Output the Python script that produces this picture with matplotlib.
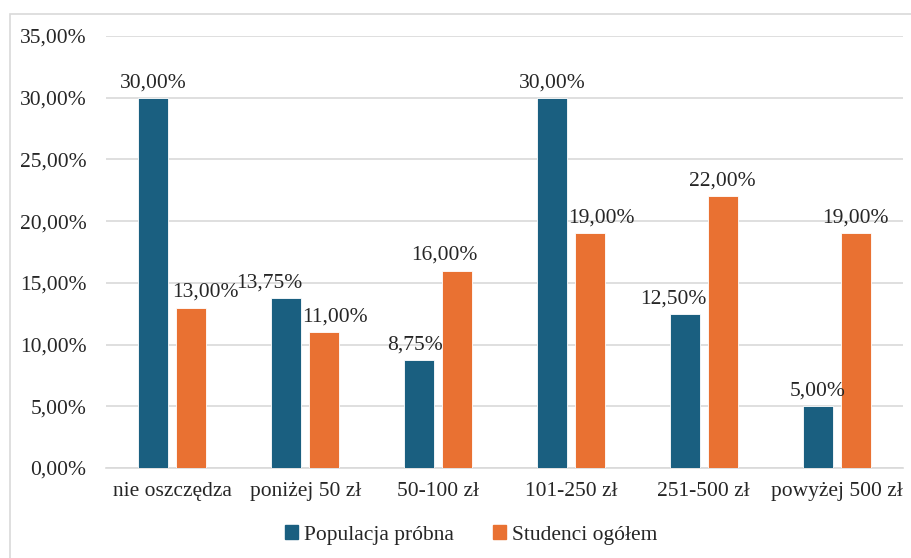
import matplotlib
matplotlib.use('Agg')
import matplotlib.pyplot as plt
import matplotlib.patches as mpatches
import numpy as np

plt.rcParams['font.family'] = ['Liberation Serif', 'DejaVu Serif']

BLUE = '#1a5f80'
ORANGE = '#e97132'
GRID = '#d9d9d9'
TXT = '#262626'
FS = 15.5

categories = ['nie oszczędza', 'poniżej 50 zł', '50-100 zł', '101-250 zł', '251-500 zł', 'powyżej 500 zł']
populacja = [30.00, 13.75, 8.75, 30.00, 12.50, 5.00]
studenci = [13.00, 11.00, 16.00, 19.00, 22.00, 19.00]
series_names = ['Populacja próbna', 'Studenci ogółem']

# small horizontal nudges of the value labels (points), as placed in the original
nudge_pop = [0, -12, -3, 0, -8, 0]
nudge_stu = [10, 8, -9, 8, 0, 0]

fig = plt.figure(figsize=(9.12, 5.58), dpi=100)
ax = fig.add_axes([106/912, 90/558, 797/912, 432/558])

x = np.arange(len(categories))
w = 0.225
off = 0.143
b1 = ax.bar(x - off, populacja, w, color=BLUE, edgecolor='white', linewidth=0.6, zorder=3)
b2 = ax.bar(x + off, studenci, w, color=ORANGE, edgecolor='white', linewidth=0.6, zorder=3)

def fmt(v):
    return f'{v:.2f}%'.replace('.', ',')

for bars, vals, nud in [(b1, populacja, nudge_pop), (b2, studenci, nudge_stu)]:
    for r, v, n in zip(bars, vals, nud):
        ax.annotate(fmt(v), (r.get_x() + r.get_width()/2, v), xytext=(n, 4),
                    textcoords='offset points', ha='center', va='bottom',
                    fontsize=FS, color=TXT, zorder=4)

ax.set_xlim(-0.5, len(categories) - 0.5)
ax.set_ylim(0, 35)
ax.set_yticks(np.arange(0, 36, 5))
ax.set_yticklabels([fmt(t) for t in np.arange(0, 36, 5)])
ax.set_xticks(x)
ax.set_xticklabels(categories)
ax.tick_params(axis='both', length=0, labelsize=FS, colors=TXT)
ax.tick_params(axis='x', pad=10)
ax.tick_params(axis='y', pad=14)
ax.grid(axis='y', color=GRID, linewidth=1.2, zorder=0)
for s in ['left', 'right', 'top']:
    ax.spines[s].set_visible(False)
ax.spines['bottom'].set_color(GRID)
ax.spines['bottom'].set_linewidth(1.2)

handles = [mpatches.Patch(color=BLUE, label=series_names[0]),
           mpatches.Patch(color=ORANGE, label=series_names[1])]
fig.legend(handles=handles, loc='center', bbox_to_anchor=(471/912, 1 - 535/558),
           ncol=2, frameon=False, fontsize=FS, handlelength=0.6, handleheight=0.6,
           handletextpad=0.3, columnspacing=1.8, labelcolor=TXT)

# outer chart border
fig.patches.append(mpatches.Rectangle((10/912, -0.01), 1.0, 1 - 14/558 + 0.01,
                                      transform=fig.transFigure, fill=False,
                                      edgecolor=GRID, linewidth=1.2))

plt.savefig('out.png', dpi=100)
plt.close()
